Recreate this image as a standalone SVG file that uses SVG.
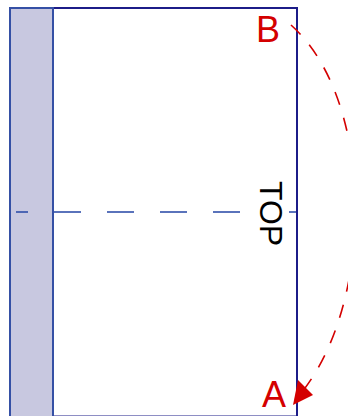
<svg xmlns="http://www.w3.org/2000/svg" width="348" height="416" viewBox="0 0 348 416">
<style>
.lbl{font-family:"Liberation Sans",Arial,sans-serif;fill:#d40000;}
.top{font-family:"Liberation Sans",Arial,sans-serif;fill:#000;}
</style>
<rect width="348" height="416" fill="#fff"/>
<g id="page">
<rect x="53" y="8" width="244" height="408.5" fill="#fff" stroke="#1c1c88" stroke-width="2"/>
</g>
<g id="strip">
<rect x="10" y="8" width="43" height="420" fill="#c8c8e0" stroke="#3550a5" stroke-width="2"/>
</g>
<g id="connectors">
<path d="M16,212 H242 M289,212 H296" fill="none" stroke="#2545a5" stroke-width="1.5" stroke-dasharray="27 26" stroke-dashoffset="15"/>
<path d="M291,25 C375,100 375,300 302,392" fill="none" stroke="#d40000" stroke-width="1.6" stroke-dasharray="13.5 13.5"/>
<path d="M293,405 L298,380 L313,395 z" fill="#d40000"/>
</g>
<g id="label-top">
<text class="top" font-size="32" transform="translate(260,181) rotate(90)">TOP</text>
</g>
<g id="label-b">
<text class="lbl" font-size="36" x="256" y="42">B</text>
</g>
<g id="label-a">
<text class="lbl" font-size="36" x="262" y="407">A</text>
</g>
</svg>
